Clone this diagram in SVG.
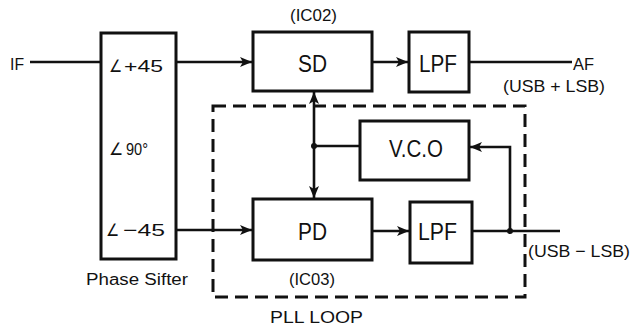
<svg xmlns="http://www.w3.org/2000/svg" width="632" height="332" viewBox="0 0 632 332">
<defs>
<style>
.box{fill:#fff;stroke:#111;stroke-width:3}
.ln{fill:none;stroke:#111;stroke-width:2.6}
.dash{fill:none;stroke:#111;stroke-width:3;stroke-dasharray:13 7}
text{font-family:"Liberation Sans",Arial,sans-serif;fill:#111}
.big{font-size:24px}
.mid{font-size:17px}
.sm{font-size:16px}
</style>
<marker id="ah" viewBox="0 0 12 10" refX="12" refY="5" markerWidth="12" markerHeight="10" markerUnits="userSpaceOnUse" orient="auto">
<path d="M0,0 L12,5 L0,10 L3,5 Z" fill="#111"/>
</marker>
</defs>
<rect width="632" height="332" fill="#fff"/>
<g id="connectors">
<path class="ln" d="M30,62 H101"/>
<path class="ln" d="M176,62 H252" marker-end="url(#ah)"/>
<path class="ln" d="M176,230 H252" marker-end="url(#ah)"/>
<path class="ln" d="M372,62 H408" marker-end="url(#ah)"/>
<path class="ln" d="M469,62 H572"/>
<path class="ln" d="M372,231 H409" marker-end="url(#ah)"/>
<path class="ln" d="M472,231 H560"/>
<path class="ln" d="M314,146 V92" marker-end="url(#ah)"/>
<path class="ln" d="M314,146 V198" marker-end="url(#ah)"/>
<path class="ln" d="M314,146 H360"/>
<path class="ln" d="M510,231 V147 H470" marker-end="url(#ah)"/>
<circle cx="314" cy="146" r="3" fill="#111"/>
<circle cx="510" cy="231" r="3" fill="#111"/>
<rect id="pll" class="dash" x="213" y="106" width="312" height="191"/>
</g>
<g id="if-label"><text class="mid" x="10" y="70" textLength="14" lengthAdjust="spacingAndGlyphs">IF</text></g>
<g id="phase-shifter">
<rect class="box" x="101" y="33" width="75" height="226"/>
<text class="mid" x="109" y="72" textLength="13" lengthAdjust="spacingAndGlyphs">∠</text>
<text class="mid" x="124" y="72" textLength="39" lengthAdjust="spacingAndGlyphs">+45</text>
<text class="mid" x="109" y="155" textLength="14" lengthAdjust="spacingAndGlyphs">∠</text>
<text class="mid" x="126" y="155" textLength="22" lengthAdjust="spacingAndGlyphs">90°</text>
<text class="mid" x="106" y="236" textLength="13" lengthAdjust="spacingAndGlyphs">∠</text>
<text class="mid" x="123" y="236" textLength="42" lengthAdjust="spacingAndGlyphs">−45</text>
<text class="sm" x="86" y="285" textLength="102" lengthAdjust="spacingAndGlyphs">Phase Sifter</text>
</g>
<g id="sd">
<rect class="box" x="253" y="32" width="119" height="59"/>
<text class="big" x="298" y="72" textLength="29" lengthAdjust="spacingAndGlyphs">SD</text>
<text class="sm" x="290" y="21" textLength="47" lengthAdjust="spacingAndGlyphs">(IC02)</text>
</g>
<g id="lpf1">
<rect class="box" x="409" y="32" width="60" height="60"/>
<text class="big" x="419" y="72" textLength="38" lengthAdjust="spacingAndGlyphs">LPF</text>
</g>
<g id="af-label">
<text class="mid" x="573" y="70" textLength="21" lengthAdjust="spacingAndGlyphs">AF</text>
<text class="mid" x="503" y="92" textLength="102" lengthAdjust="spacingAndGlyphs">(USB + LSB)</text>
</g>
<g id="vco">
<rect class="box" x="360" y="121" width="109" height="59"/>
<text class="big" x="389" y="157" textLength="54" lengthAdjust="spacingAndGlyphs">V.C.O</text>
</g>
<g id="pd">
<rect class="box" x="253" y="199" width="119" height="61"/>
<text class="big" x="298" y="240" textLength="29" lengthAdjust="spacingAndGlyphs">PD</text>
<text class="sm" x="289" y="285" textLength="46" lengthAdjust="spacingAndGlyphs">(IC03)</text>
</g>
<g id="lpf2">
<rect class="box" x="410" y="202" width="62" height="61"/>
<text class="big" x="418" y="240" textLength="39" lengthAdjust="spacingAndGlyphs">LPF</text>
</g>
<g id="out-label">
<text class="mid" x="528" y="257" textLength="102" lengthAdjust="spacingAndGlyphs">(USB − LSB)</text>
</g>
<g id="pll-label">
<text class="sm" x="270" y="323" textLength="93" lengthAdjust="spacingAndGlyphs">PLL LOOP</text>
</g>
</svg>
